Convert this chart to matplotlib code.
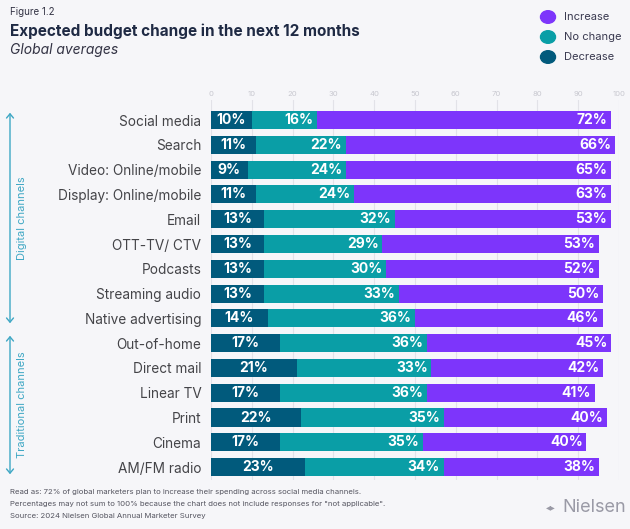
"""Expected budget change in the next 12 months - stacked horizontal bars."""

import matplotlib.pyplot as plt
from matplotlib.patches import FancyArrowPatch

plt.rcParams["font.family"] = ["Inter", "DejaVu Sans"]

categories = [
    "Social media", "Search", "Video: Online/mobile", "Display: Online/mobile",
    "Email", "OTT-TV/ CTV", "Podcasts", "Streaming audio", "Native advertising",
    "Out-of-home", "Direct mail", "Linear TV", "Print", "Cinema", "AM/FM radio",
]
decrease = [10, 11, 9, 11, 13, 13, 13, 13, 14, 17, 21, 17, 22, 17, 23]
no_change = [16, 22, 24, 24, 32, 29, 30, 33, 36, 36, 33, 36, 35, 35, 34]
increase = [72, 66, 65, 63, 53, 53, 52, 50, 46, 45, 42, 41, 40, 40, 38]
series_names = ["Increase", "No change", "Decrease"]
x_ticks = list(range(0, 101, 10))

BG = "#f6f6f9"
C_DEC = "#015a7c"
C_NOC = "#0a9ea6"
C_INC = "#7d35fb"
GROUP = "#3ea7c4"
W, H = 630, 529

fig = plt.figure(figsize=(W / 100, H / 100), dpi=100, facecolor=BG)


def fx(px):
    return px / W


def fy(py):
    return 1 - py / H


ax_top, ax_bot = 100, 480
ax = fig.add_axes([fx(211), fy(ax_bot), fx(619) - fx(211), (ax_bot - ax_top) / H])
ax.set_facecolor(BG)

ypos = list(range(len(categories)))
bar_h = 0.73
left_inc = [d + n for d, n in zip(decrease, no_change)]
ax.barh(ypos, decrease, height=bar_h, color=C_DEC, zorder=2)
ax.barh(ypos, no_change, left=decrease, height=bar_h, color=C_NOC, zorder=2)
ax.barh(ypos, increase, left=left_inc, height=bar_h, color=C_INC, zorder=2)

lab = dict(color="white", fontsize=10, fontweight="bold", va="center", zorder=3)
for y, d, n, i in zip(ypos, decrease, no_change, increase):
    ax.text(d / 2, y, f"{d}%", ha="center", **lab)
    ax.text(d + n - 0.9, y, f"{n}%", ha="right", **lab)
    ax.text(d + n + i - 0.9, y, f"{i}%", ha="right", **lab)

ax.set_xlim(0, 100)
ax.set_ylim(14.52, -0.81)
ax.set_yticks(ypos)
ax.set_yticklabels(categories, fontsize=9.8, color="#444448")
ax.tick_params(axis="y", length=0, pad=7)
ax.xaxis.tick_top()
ax.set_xticks(x_ticks)
ax.tick_params(axis="x", length=0, pad=2, labelsize=5.5, labelcolor="#c8c8d0")
ax.grid(axis="x", color="#e2e2e8", linewidth=0.8, zorder=0)
for s in ax.spines.values():
    s.set_visible(False)

# titles
fig.text(fx(10), fy(12), "Figure 1.2", fontsize=7, color="#333344", va="center")
fig.text(fx(10), fy(31), "Expected budget change in the next 12 months",
         fontsize=11, fontweight="bold", color="#1f2a44", va="center")
fig.text(fx(10), fy(50), "Global averages", fontsize=10, style="italic",
         color="#333344", va="center")

# legend
legend_colors = [C_INC, C_NOC, C_DEC]
for k, (name, c) in enumerate(zip(series_names, legend_colors)):
    yy = fy(17 + 20 * k)
    fig.patches.append(plt.Circle((fx(548), yy), 7.5 / W, color=c,
                                  transform=fig.transFigure, figure=fig))
    fig.text(fx(564), yy, name, fontsize=8, color="#3a3a50", va="center")

# group brackets
for (top, bot, label) in [(110, 326, "Digital channels"), (333, 477, "Traditional channels")]:
    fig.add_artist(FancyArrowPatch(
        (fx(10), fy(bot)), (fx(10), fy(top)), transform=fig.transFigure,
        arrowstyle="<->,head_length=3,head_width=2.5", color=GROUP, lw=1))
    fig.text(fx(22), fy((top + bot) / 2), label, rotation=90, fontsize=8,
             color=GROUP, ha="center", va="center")

# footer
notes = [
    "Read as: 72% of global marketers plan to increase their spending across social media channels.",
    "Percentages may not sum to 100% because the chart does not include responses for \"not applicable\".",
    "Source: 2024 Nielsen Global Annual Marketer Survey",
]
for k, t in enumerate(notes):
    fig.text(fx(10), fy(492 + 12 * k), t, fontsize=5.6, color="#555560", va="center")
fig.text(fx(562), fy(507), "Nielsen", fontsize=13, color="#9a9aa6", ha="left", va="center")
fig.text(fx(551), fy(507), "\u25c2\u25b8", fontsize=7, color="#9a9aa6", ha="center", va="center",
         family="DejaVu Sans")

fig.savefig("out.png", dpi=100, facecolor=BG)
